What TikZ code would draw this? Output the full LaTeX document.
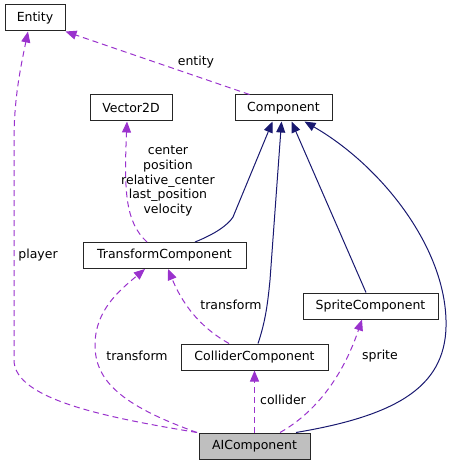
\documentclass[tikz,border=0pt]{standalone}
\usepackage{fontspec}
\setmainfont{DejaVu Sans}
\usetikzlibrary{arrows.meta}
\definecolor{usecol}{HTML}{9A32CD}
\definecolor{inhcol}{HTML}{191970}
\definecolor{boxgray}{HTML}{BFBFBF}
\tikzset{
  cls/.style={draw=black!85, line width=1pt, minimum height=26pt, inner sep=0pt, fill=white,
    font=\fontsize{12.5}{14.8}\selectfont},
  uses/.style={draw=usecol, line width=1pt, dash pattern=on 6pt off 4pt,
    -{Triangle[length=11pt,width=9pt]}, fill=none},
  inh/.style={draw=inhcol, line width=1pt, -{Triangle[length=11pt,width=9pt]}},
  lbl/.style={font=\fontsize{12.5}{14.8}\selectfont, inner sep=0pt, align=center},
}
\begin{document}
\begin{tikzpicture}[x=1pt,y=-1pt]
\useasboundingbox (0,0) rectangle (451,465);
\node[cls, minimum width=60pt] (entity) at (35,18) {Entity};
\node[cls, minimum width=82pt] (vector) at (131,108) {Vector2D};
\node[cls, minimum width=97pt] (component) at (283.5,108) {Component};
\node[cls, minimum width=163pt] (tc) at (164.5,255.5) {TransformComponent};
\node[cls, minimum width=135pt] (sprite) at (370.5,306) {SpriteComponent};
\node[cls, minimum width=147pt] (collider) at (254.5,357) {ColliderComponent};
\node[cls, minimum width=111pt, fill=boxgray] (ai) at (254.5,446) {AIComponent};

% labels
\node[lbl] (lentity) at (196,62) {entity};
\node[lbl] (lplayer) at (38,255) {player};
\node[lbl] (lvec) at (168,181) {center\\position\\relative\_center\\last\_position\\velocity};
\node[lbl] (ltr1) at (231,305) {transform};
\node[lbl] (ltr2) at (137,356) {transform};
\node[lbl] (lcoll) at (283,400) {collider};
\node[lbl] (lspr) at (380,356) {sprite};

% inheritance edges
\draw[inh] ([xshift=30.5pt]tc.north) .. controls (215,234) and (228,225) .. (233,217) -- ([xshift=-11pt]component.south);
\draw[inh] ([xshift=3.5pt]collider.north) .. controls (266,320) and (268,300) .. (270,280) -- ([xshift=-2pt]component.south);
\draw[inh] ([xshift=-4.5pt]sprite.north) -- ([xshift=8pt]component.south);
\draw[inh] ([xshift=41.5pt]ai.north) .. controls (400,415) and (448,385) .. (446,320) .. controls (444,245) and (380,165) .. ([xshift=21pt]component.south);

% usage edges
\draw[uses] ([xshift=-34pt]component.north) -- (entity.south east);
\draw[uses] ([xshift=-57.5pt]ai.north) .. controls (110,418) and (14,400) .. (14,360) -- (14,140) .. controls (14,100) and (20,70) .. ([xshift=-7pt]entity.south);
\draw[uses] ([xshift=-17.5pt]tc.north) .. controls (125,222) and (124,190) .. ([xshift=-4pt]vector.south);
\draw[uses] ([xshift=-25.5pt]collider.north) .. controls (205,330) and (185,310) .. ([xshift=3.5pt]tc.south);
\draw[uses] ([xshift=-57.5pt]ai.north) .. controls (120,405) and (95,380) .. (95,345) .. controls (95,310) and (120,290) .. ([xshift=-19.5pt]tc.south);
\draw[uses] (ai.north) -- (collider.south);
\draw[uses] ([xshift=25.5pt]ai.north) .. controls (320,410) and (345,370) .. ([xshift=-8.5pt]sprite.south);
\end{tikzpicture}
\end{document}
